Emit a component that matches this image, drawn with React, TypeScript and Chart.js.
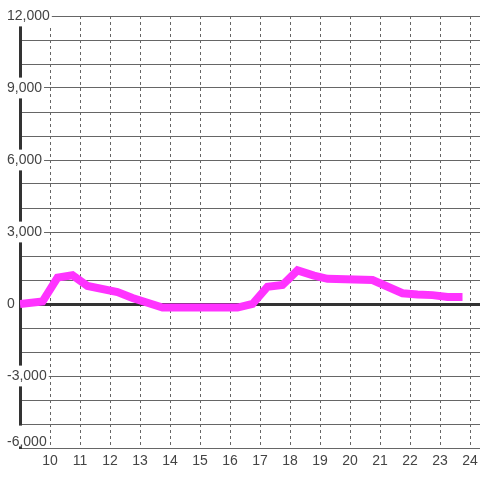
import React, { useEffect, useRef } from "react";
import { Chart, registerables } from "chart.js";

Chart.register(...registerables);

const hours = [9.0, 9.75, 10.25, 10.75, 11.25, 12.25, 12.75, 13.25, 13.75, 16.25, 16.75, 17.25, 17.75, 18.25, 18.8, 19.25, 20.75, 21.75, 22.25, 22.75, 23.25, 23.75];
const values = [0, 100, 1100, 1200, 750, 500, 250, 50, -150, -150, 0, 720, 790, 1400, 1180, 1050, 1000, 450, 400, 370, 290, 290];
const xMin = 9;
const xMax = 24.333;
const yMin = -6000;
const yMax = 12000;
const yStep = 1000;
const yLabelStep = 3000;

const FONT = { family: "'Liberation Sans', Arial, sans-serif", size: 14 };

// lift the lowest y label so it sits above the x axis, as in the reference
const liftBottomLabel = {
  id: "liftBottomLabel",
  beforeDraw(chart: any) {
    const scale = chart.scales.y;
    const items = scale.getLabelItems();
    const first = items.find((it: any) => it.label === Number(yMin).toLocaleString("en-US"));
    if (first && !first._lifted) {
      first._lifted = true;
      first.options.translation[1] -= 6;
      if (first.options.backdrop) first.options.backdrop.top -= 6;
    }
  },
};

export default function App() {
  const ref = useRef<HTMLCanvasElement>(null);
  useEffect(() => {
    document.body.style.margin = "0";
    document.documentElement.style.overflow = "hidden";
    document.body.style.overflow = "hidden";
    if (!ref.current) return;
    const chart = new Chart(ref.current, {
      type: "line",
      data: {
        datasets: [
          {
            data: hours.map((h, i) => ({ x: h, y: values[i] })),
            borderColor: "#ff33ff",
            borderWidth: 8,
            pointRadius: 0,
            tension: 0,
            fill: false,
          },
        ],
      },
      plugins: [liftBottomLabel],
      options: {
        animation: false,
        responsive: false,
        devicePixelRatio: 1,
        layout: { padding: { left: 20, top: 16, right: 0, bottom: 8 } },
        plugins: { legend: { display: false }, tooltip: { enabled: false } },
        scales: {
          x: {
            type: "linear",
            bounds: "data",
            min: xMin,
            max: xMax,
            afterFit: (scale: any) => {
              scale.paddingLeft = 0;
              scale.paddingRight = 0;
              scale.height = 24;
            },
            ticks: {
              stepSize: 1,
              includeBounds: false,
              padding: 5,
              color: "#444",
              font: FONT,
              maxRotation: 0,
              autoSkip: false,
              callback: (v: any) => (v === xMin ? "" : String(v)),
            },
            grid: {
              color: "#666",
              lineWidth: 1,
              drawTicks: false,
            },
            border: { display: false, dash: [3, 3] },
          },
          y: {
            type: "linear",
            min: yMin,
            max: yMax,
            afterFit: (scale: any) => {
              scale.width = 0;
              scale.paddingTop = 0;
              scale.paddingBottom = 0;
            },
            ticks: {
              stepSize: yStep,
              mirror: true,
              padding: -13,
              color: "#444",
              font: FONT,
              showLabelBackdrop: (ctx: any) => !!ctx.tick && ctx.tick.value % yLabelStep === 0,
              backdropColor: "#ffffff",
              backdropPadding: 2,
              callback: (v: any) =>
                v % yLabelStep === 0 ? Number(v).toLocaleString("en-US") : "",
            },
            grid: {
              color: (ctx: any) => (ctx.tick && ctx.tick.value === 0 ? "#333" : "#666"),
              lineWidth: (ctx: any) => (ctx.tick && ctx.tick.value === 0 ? 3 : 1),
              drawTicks: false,
            },
            border: { display: true, color: "#333", width: 3 },
          },
        },
      } as any,
    });
    return () => chart.destroy();
  }, []);
  return (
    <div style={{ width: 480, height: 480 }}>
      <canvas ref={ref} width={480} height={480} style={{ display: "block" }} />
    </div>
  );
}
